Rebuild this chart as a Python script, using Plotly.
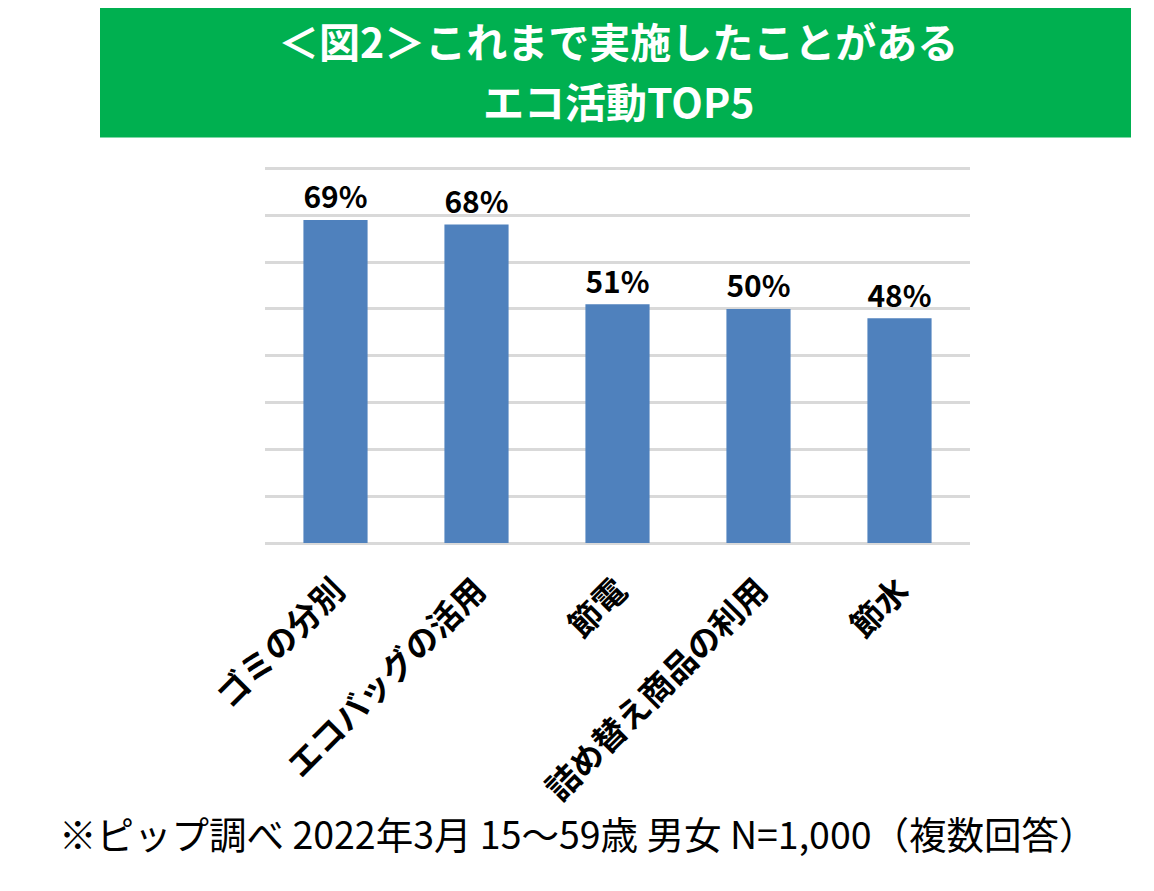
import plotly.graph_objects as go

# data
categories = ["ゴミの分別", "エコバッグの活用", "節電", "詰め替え商品の利用", "節水"]
values = [69, 68, 51, 50, 48]
labels = ["69%", "68%", "51%", "50%", "48%"]

title_lines = ["＜図2＞これまで実施したことがある", "エコ活動TOP5"]
note = "※ピップ調べ 2022年3月 15～59歳 男女 N=1,000（複数回答）"

# page has an 8px body margin, so work in screen pixels and shift
OFF = 8
W, H = 1154 - OFF, 891 - OFF
L, R, B = 265, 970, 543          # plot area in screen pixels
YMAX = 80.3
T = B - YMAX * (B - 168) / 80    # keeps the 80% gridline at y=168

def px_x(px):
    return (px - L) / (R - L)

def px_y(py):
    return (B - py) / (B - T)

font = "Noto Sans CJK JP"

fig = go.Figure(go.Bar(
    x=categories, y=values,
    text=labels, textposition="outside",
    textfont=dict(family=font, size=35, color="black", weight="bold"),
    marker=dict(color="#4F81BD", line=dict(width=0)),
    cliponaxis=False,
))

fig.update_layout(
    width=W, height=H,
    margin=dict(l=L - OFF, r=W + OFF - R, t=T - OFF, b=H + OFF - B),
    paper_bgcolor="white", plot_bgcolor="white",
    bargap=0.545,
    showlegend=False,
    font=dict(family=font, color="black"),
    xaxis=dict(
        tickangle=-45,
        tickfont=dict(family=font, size=33, color="black", weight="bold"),
        ticks="outside", ticklen=14, tickcolor="rgba(0,0,0,0)",
        showline=False, showgrid=False,
    ),
    yaxis=dict(
        range=[0, YMAX], dtick=10,
        showticklabels=False,
        showgrid=True, gridcolor="#d9d9d9", gridwidth=2.5,
        zeroline=True, zerolinecolor="#d9d9d9", zerolinewidth=2.5,
    ),
)

# green title box
fig.add_shape(type="rect", xref="paper", yref="paper",
              x0=px_x(100), x1=px_x(1131), y0=px_y(137), y1=px_y(-2),
              fillcolor="#00B050", line=dict(width=0), layer="below")

for line, cy in zip(title_lines, [39, 100]):
    fig.add_annotation(xref="paper", yref="paper", x=px_x(618), y=px_y(cy),
                       text=line, showarrow=False,
                       font=dict(family=font, size=41, color="white", weight="bold"),
                       xanchor="center", yanchor="middle")

# footnote
fig.add_annotation(xref="paper", yref="paper", x=px_x(578), y=px_y(833),
                   text=note, showarrow=False,
                   font=dict(family=font, size=37.5, color="black"),
                   xanchor="center", yanchor="middle")

fig.write_html("out.html")
